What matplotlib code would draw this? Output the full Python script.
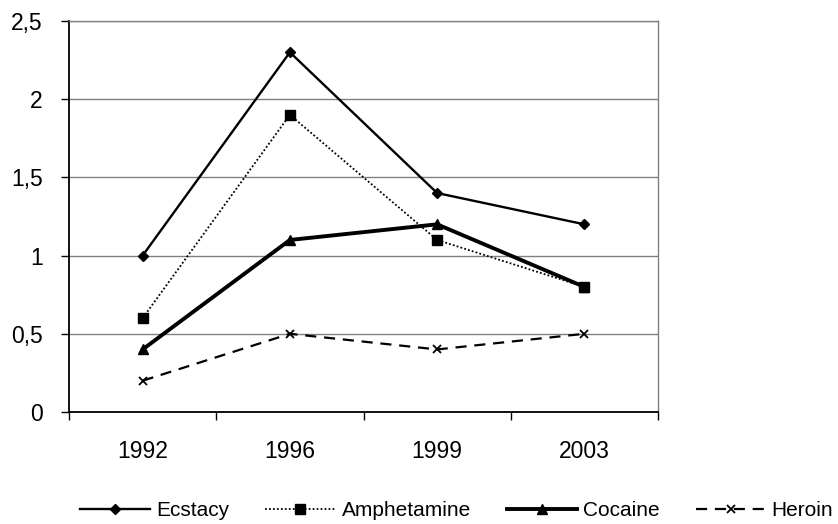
import matplotlib
matplotlib.use("Agg")
import matplotlib.pyplot as plt
from matplotlib.ticker import FixedLocator, FuncFormatter

years = ["1992", "1996", "1999", "2003"]
ecstacy = [1.0, 2.3, 1.4, 1.2]
amphetamine = [0.6, 1.9, 1.1, 0.8]
cocaine = [0.4, 1.1, 1.2, 0.8]
heroin = [0.2, 0.5, 0.4, 0.5]

plt.rcParams["font.family"] = ["Liberation Sans", "DejaVu Sans"]

fig = plt.figure(figsize=(8.38, 5.24), dpi=100)
ax = fig.add_axes([69 / 838, 112 / 524, 589 / 838, 391 / 524])

x = range(len(years))
ax.plot(x, ecstacy, color="black", lw=1.7, ls="-", marker="D", ms=5, label="Ecstacy")
ax.plot(x, amphetamine, color="black", lw=1.3, ls=(0, (1, 1.2)), marker="s", ms=6.5,
        label="Amphetamine")
ax.plot(x, cocaine, color="black", lw=2.8, ls="-", marker="^", ms=6.5, label="Cocaine")
ax.plot(x, heroin, color="black", lw=1.6, ls=(0, (5, 3.5)), marker="x", ms=6, mew=1.3,
        label="Heroin")

ax.set_xlim(-0.5, 3.5)
ax.set_ylim(0, 2.5)
ax.set_yticks([0, 0.5, 1, 1.5, 2, 2.5])
ax.yaxis.set_major_formatter(FuncFormatter(lambda v, p: f"{v:g}".replace(".", ",")))
ax.set_xticks(list(x))
ax.set_xticklabels(years)
ax.xaxis.set_minor_locator(FixedLocator([-0.5, 0.5, 1.5, 2.5, 3.5]))
ax.tick_params(axis="x", which="major", length=0, pad=20, labelsize=16.5)
ax.tick_params(axis="x", which="minor", length=6, width=1, color="black")
ax.tick_params(axis="y", length=6, width=1, labelsize=16.5, pad=13)

ax.grid(axis="y", color="#808080", lw=1)
ax.set_axisbelow(True)
for side in ["top", "right"]:
    ax.spines[side].set_color("#808080")
    ax.spines[side].set_linewidth(1)
for side in ["left", "bottom"]:
    ax.spines[side].set_color("black")
    ax.spines[side].set_linewidth(1.3)

fig.legend(loc="center", bbox_to_anchor=(0.545, 0.025), ncol=4, frameon=False,
           fontsize=15, handlelength=3.36, columnspacing=1.73, handletextpad=0.29,
           borderpad=0, borderaxespad=0)

fig.savefig("out.png", dpi=100, facecolor="white")
